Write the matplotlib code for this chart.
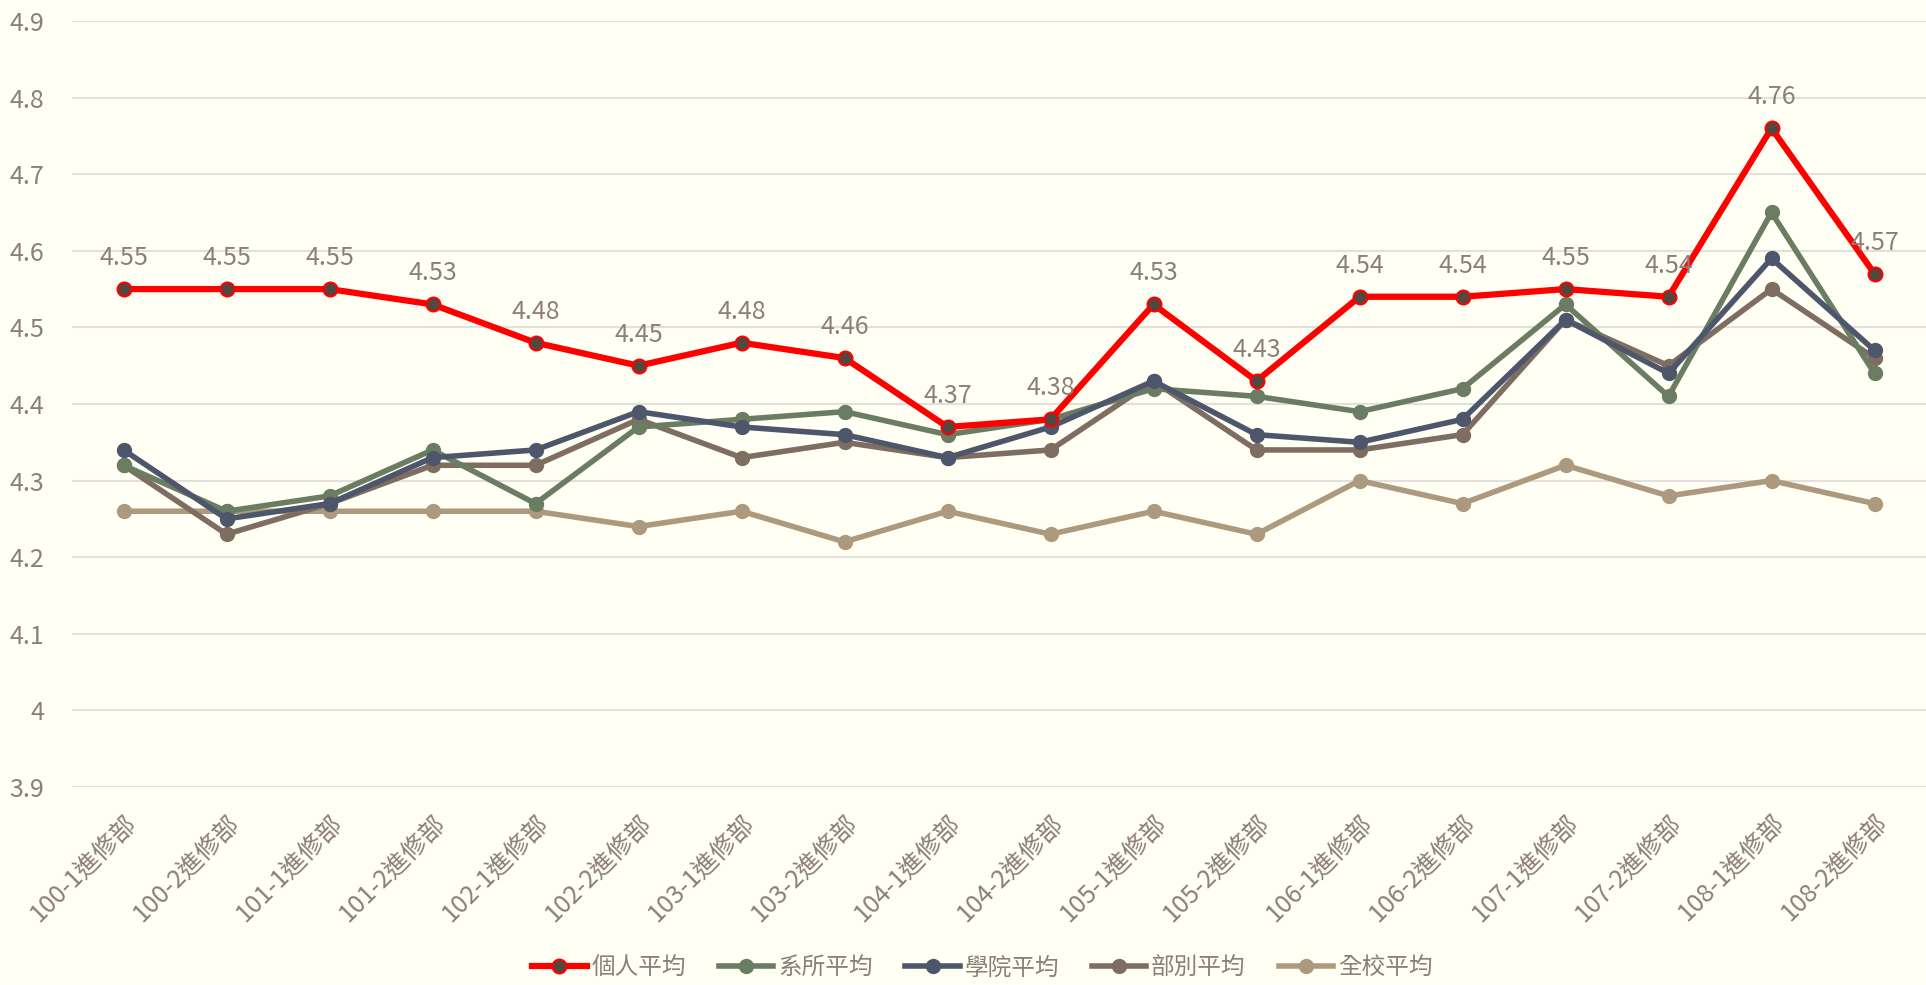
import numpy as np
import matplotlib.pyplot as plt

# =========================
# DATA
# =========================
terms = ["100-1進修部", "100-2進修部", "101-1進修部", "101-2進修部", "102-1進修部",
         "102-2進修部", "103-1進修部", "103-2進修部", "104-1進修部", "104-2進修部",
         "105-1進修部", "105-2進修部", "106-1進修部", "106-2進修部", "107-1進修部",
         "107-2進修部", "108-1進修部", "108-2進修部"]

personal = [4.55, 4.55, 4.55, 4.53, 4.48, 4.45, 4.48, 4.46, 4.37, 4.38,
            4.53, 4.43, 4.54, 4.54, 4.55, 4.54, 4.76, 4.57]
dept = [4.32, 4.26, 4.28, 4.34, 4.27, 4.37, 4.38, 4.39, 4.36, 4.38,
        4.42, 4.41, 4.39, 4.42, 4.53, 4.41, 4.65, 4.44]
college = [4.34, 4.25, 4.27, 4.33, 4.34, 4.39, 4.37, 4.36, 4.33, 4.37,
           4.43, 4.36, 4.35, 4.38, 4.51, 4.44, 4.59, 4.47]
division = [4.32, 4.23, 4.27, 4.32, 4.32, 4.38, 4.33, 4.35, 4.33, 4.34,
            4.43, 4.34, 4.34, 4.36, 4.51, 4.45, 4.55, 4.46]
school = [4.26, 4.26, 4.26, 4.26, 4.26, 4.24, 4.26, 4.22, 4.26, 4.23,
          4.26, 4.23, 4.30, 4.27, 4.32, 4.28, 4.30, 4.27]

series_names = ["個人平均", "系所平均", "學院平均", "部別平均", "全校平均"]

# =========================
# STYLE
# =========================
bg = "#FFFFF4"
text_col = "#8C7F78"
fs = 18
plt.rcParams["font.family"] = ["Noto Sans CJK TC", "DejaVu Sans"]
plt.rcParams["font.size"] = fs

fig = plt.figure(figsize=(19.26, 9.85), dpi=100, facecolor=bg)
ax = fig.add_axes([0.0374, 0.201, 0.9626, 0.7777], facecolor=bg)

x = np.arange(len(terms))

# draw back to front: school first, personal on top
ax.plot(x, school, color="#AD9A7E", lw=4, marker="o", ms=10, zorder=3, label=series_names[4])
ax.plot(x, division, color="#7F6D62", lw=4, marker="o", ms=10, zorder=4, label=series_names[3])
ax.plot(x, college, color="#4E566C", lw=4, marker="o", ms=10, zorder=5, label=series_names[2])
ax.plot(x, dept, color="#6A7D62", lw=4, marker="o", ms=10, zorder=4.5, label=series_names[1])
ax.plot(x, personal, color="#FF0000", lw=4.5, marker="o", ms=10,
        markerfacecolor="#524841", markeredgecolor="#FF0000", markeredgewidth=1.5,
        zorder=6, label=series_names[0])

for xi, v in zip(x, personal):
    ax.annotate(f"{v:.2f}", (xi, v), xytext=(0, 13), textcoords="offset points",
                ha="center", va="bottom", color=text_col, fontsize=fs, zorder=7)

# =========================
# FORMAT
# =========================
ax.set_xlim(-0.5, len(terms) - 0.5)
ax.set_ylim(3.9, 4.9)
ax.set_yticks(np.arange(3.9, 4.91, 0.1))
ax.set_yticklabels(["3.9", "4", "4.1", "4.2", "4.3", "4.4", "4.5", "4.6", "4.7", "4.8", "4.9"])
ax.set_xticks(x)
ax.set_xticklabels(terms, rotation=45, ha="right", rotation_mode="anchor")

ax.tick_params(axis="both", length=0, colors=text_col, labelsize=fs)
ax.tick_params(axis="y", pad=20)
ax.tick_params(axis="x", pad=16)
for s in ax.spines.values():
    s.set_visible(False)

ax.yaxis.grid(True, color="#E2E0DC", lw=1.5)
ax.set_axisbelow(True)

handles, labels = ax.get_legend_handles_labels()
leg = fig.legend(handles[::-1], labels[::-1], loc="center", bbox_to_anchor=(0.51, 0.017),
                 ncol=5, frameon=False, fontsize=17, handlelength=2.3,
                 columnspacing=1.4, handletextpad=0.2, labelcolor=text_col)

plt.savefig("out.png", dpi=100, facecolor=bg)
